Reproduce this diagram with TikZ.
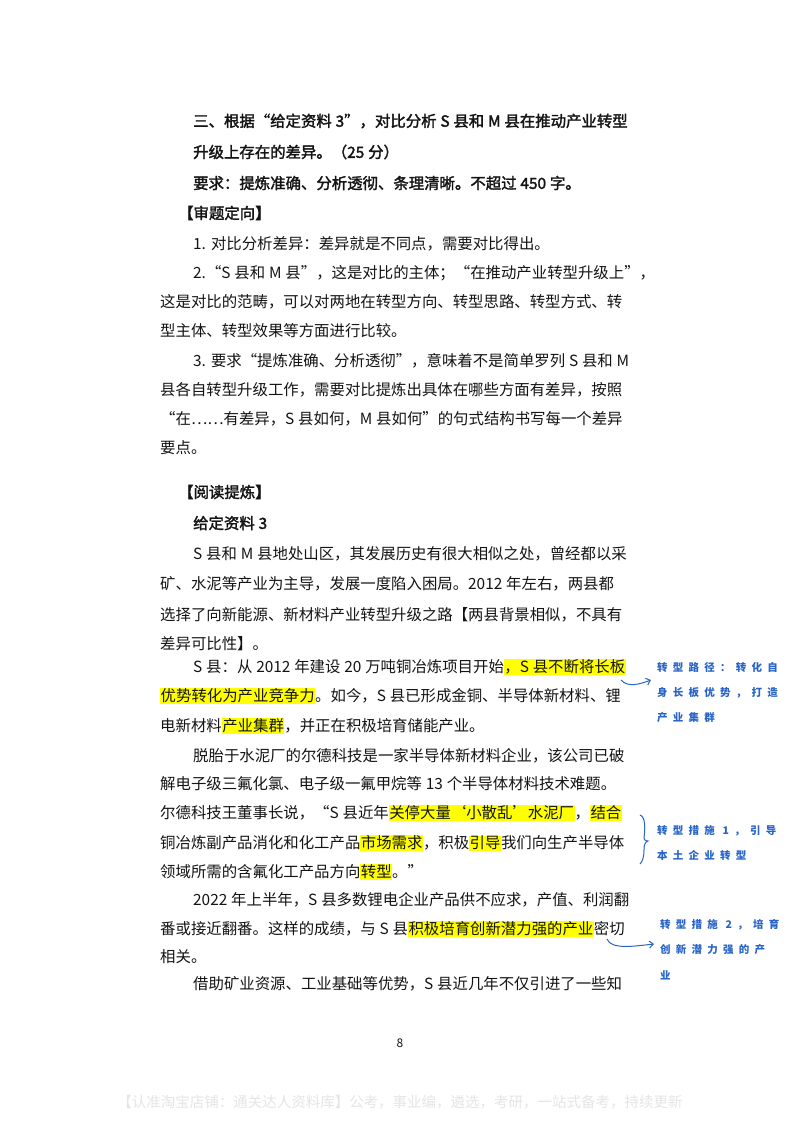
\documentclass[tikz,border=0pt]{standalone}
\usepackage{fontspec}
\setmainfont{Noto Sans CJK SC}
\newfontfamily\annf{Noto Sans CJK SC}[LetterSpace=50]
\usetikzlibrary{arrows.meta}
\XeTeXlinebreaklocale "zh"
\XeTeXlinebreakskip=0pt plus 3pt
\definecolor{ink}{RGB}{20,20,20}
\definecolor{pen}{RGB}{40,100,200}
\definecolor{hlc}{RGB}{255,255,0}
\newcommand\hl[1]{{\setlength{\fboxsep}{0.5pt}\colorbox{hlc}{#1}}}
\newcommand\fl[4]{\node[txt,anchor=west] (t#2) at (#1,#2) {\spaceskip=0.25em\relax\makebox[#3pt][s]{#4}};}
\newcommand\nl[3]{\node[txt,anchor=west] (t#2) at (#1,#2) {\spaceskip=0.25em\relax #3};}
\newcommand\an[3]{\node[ann,anchor=west] (a#2) at (#1,#2) {#3};}
\begin{document}
\begin{tikzpicture}[x=1pt,y=-1pt,
 txt/.style={inner sep=0pt,font=\fontsize{15.4}{18}\selectfont,text=ink},
 ann/.style={inner sep=0pt,font=\annf\fontsize{10.5}{12}\selectfont\bfseries,text=pen},
 pen/.style={draw=pen,line width=1pt}]
\useasboundingbox (0,0) rectangle (800,1130);
\fill[white] (0,0) rectangle (800,1130);
\begin{scope}[txt/.append style={font=\fontsize{15.4}{18}\selectfont\addfontfeature{FakeBold=2}}]
\fl{193}{121}{444}{三、根据“给定资料 3”，对比分析 S 县和 M 县在推动产业转型}
\nl{193}{152}{升级上存在的差异。（25 分）}
\nl{193}{183}{要求：提炼准确、分析透彻、条理清晰。不超过 450 字。}
\nl{178}{213}{【审题定向】}
\end{scope}
\nl{193}{244}{1. 对比分析差异：差异就是不同点，需要对比得出。}
\fl{193}{273}{444}{2.“S 县和 M 县”，这是对比的主体；“在推动产业转型升级上”，}
\fl{160}{302}{477}{这是对比的范畴，可以对两地在转型方向、转型思路、转型方式、转}
\nl{160}{331}{型主体、转型效果等方面进行比较。}
\fl{193}{361}{444}{3. 要求“提炼准确、分析透彻”，意味着不是简单罗列 S 县和 M}
\fl{160}{390}{477}{县各自转型升级工作，需要对比提炼出具体在哪些方面有差异，按照}
\fl{160}{419}{477}{“在……有差异，S 县如何，M 县如何”的句式结构书写每一个差异}
\nl{160}{448}{要点。}
\begin{scope}[txt/.append style={font=\fontsize{15.4}{18}\selectfont\addfontfeature{FakeBold=2}}]
\nl{178}{492}{【阅读提炼】}
\nl{193}{523}{给定资料 3}
\end{scope}
\fl{193}{554}{444}{S 县和 M 县地处山区，其发展历史有很大相似之处，曾经都以采}
\fl{160}{584}{477}{矿、水泥等产业为主导，发展一度陷入困局。2012 年左右，两县都}
\fl{160}{615}{477}{选择了向新能源、新材料产业转型升级之路【两县背景相似，不具有}
\nl{160}{644}{差异可比性】。}
\fl{193}{667}{444}{S 县：从 2012 年建设 20 万吨铜冶炼项目开始\hl{，S 县不断将长板}}
\fl{160}{696}{477}{\hl{优势转化为产业竞争力}。如今，S 县已形成金铜、半导体新材料、锂}
\nl{160}{726}{电新材料\hl{产业集群}，并正在积极培育储能产业。}
\fl{193}{756}{444}{脱胎于水泥厂的尔德科技是一家半导体新材料企业，该公司已破}
\fl{160}{784}{477}{解电子级三氟化氯、电子级一氟甲烷等 13 个半导体材料技术难题。}
\fl{160}{813}{477}{尔德科技王董事长说，“S 县近年\hl{关停大量‘小散乱’水泥厂}，\hl{结合}}
\fl{160}{843}{477}{铜冶炼副产品消化和化工产品\hl{市场需求}，积极\hl{引导}我们向生产半导体}
\nl{160}{872}{领域所需的含氟化工产品方向\hl{转型}。”}
\fl{193}{900}{444}{2022 年上半年，S 县多数锂电企业产品供不应求，产值、利润翻}
\fl{160}{929}{477}{番或接近翻番。这样的成绩，与 S 县\hl{积极培育创新潜力强的产业}密切}
\nl{160}{957}{相关。}
\fl{193}{984}{444}{借助矿业资源、工业基础等优势，S 县近几年不仅引进了一些知}
\node[txt,font=\fontsize{12}{14}\selectfont] (pg) at (400,1043) {8};
\node[inner sep=0pt,font=\fontsize{14.5}{16}\selectfont,text=black!10] (ft) at (400,1102) {【认准淘宝店铺：通关达人资料库】公考，事业编，遴选，考研，一站式备考，持续更新};
% annotations
\an{657}{668}{转型路径：转化自}
\an{657}{693}{身长板优势，打造}
\an{657}{718}{产业集群}
\an{657}{831}{转型措施 1，引导}
\an{657}{855}{本土企业转型}
\an{660}{925}{转型措施 2，培育}
\an{660}{950}{创新潜力强的产}
\an{660}{975}{业}
\coordinate (u1) at (621,680);
\coordinate (e1) at (651,680);
\draw[pen,-{Straight Barb[length=4pt,width=7pt]}] (u1) .. controls (628,688) and (640,684) .. (e1);
\coordinate (b1) at (640,815);
\coordinate (b2) at (640,864);
\draw[pen] (b1) .. controls (646,817) and (645,830) .. (644,838) .. controls (644,841) and (648,841) .. (648,841) .. controls (645,842) and (644,845) .. (644,850) .. controls (644,858) and (642,862) .. (b2);
\coordinate (u2) at (607,939);
\coordinate (e2) at (654,944);
\draw[pen,-{Straight Barb[length=4pt,width=7pt]}] (u2) .. controls (611,950) and (635,946) .. (e2);
\end{tikzpicture}
\end{document}
